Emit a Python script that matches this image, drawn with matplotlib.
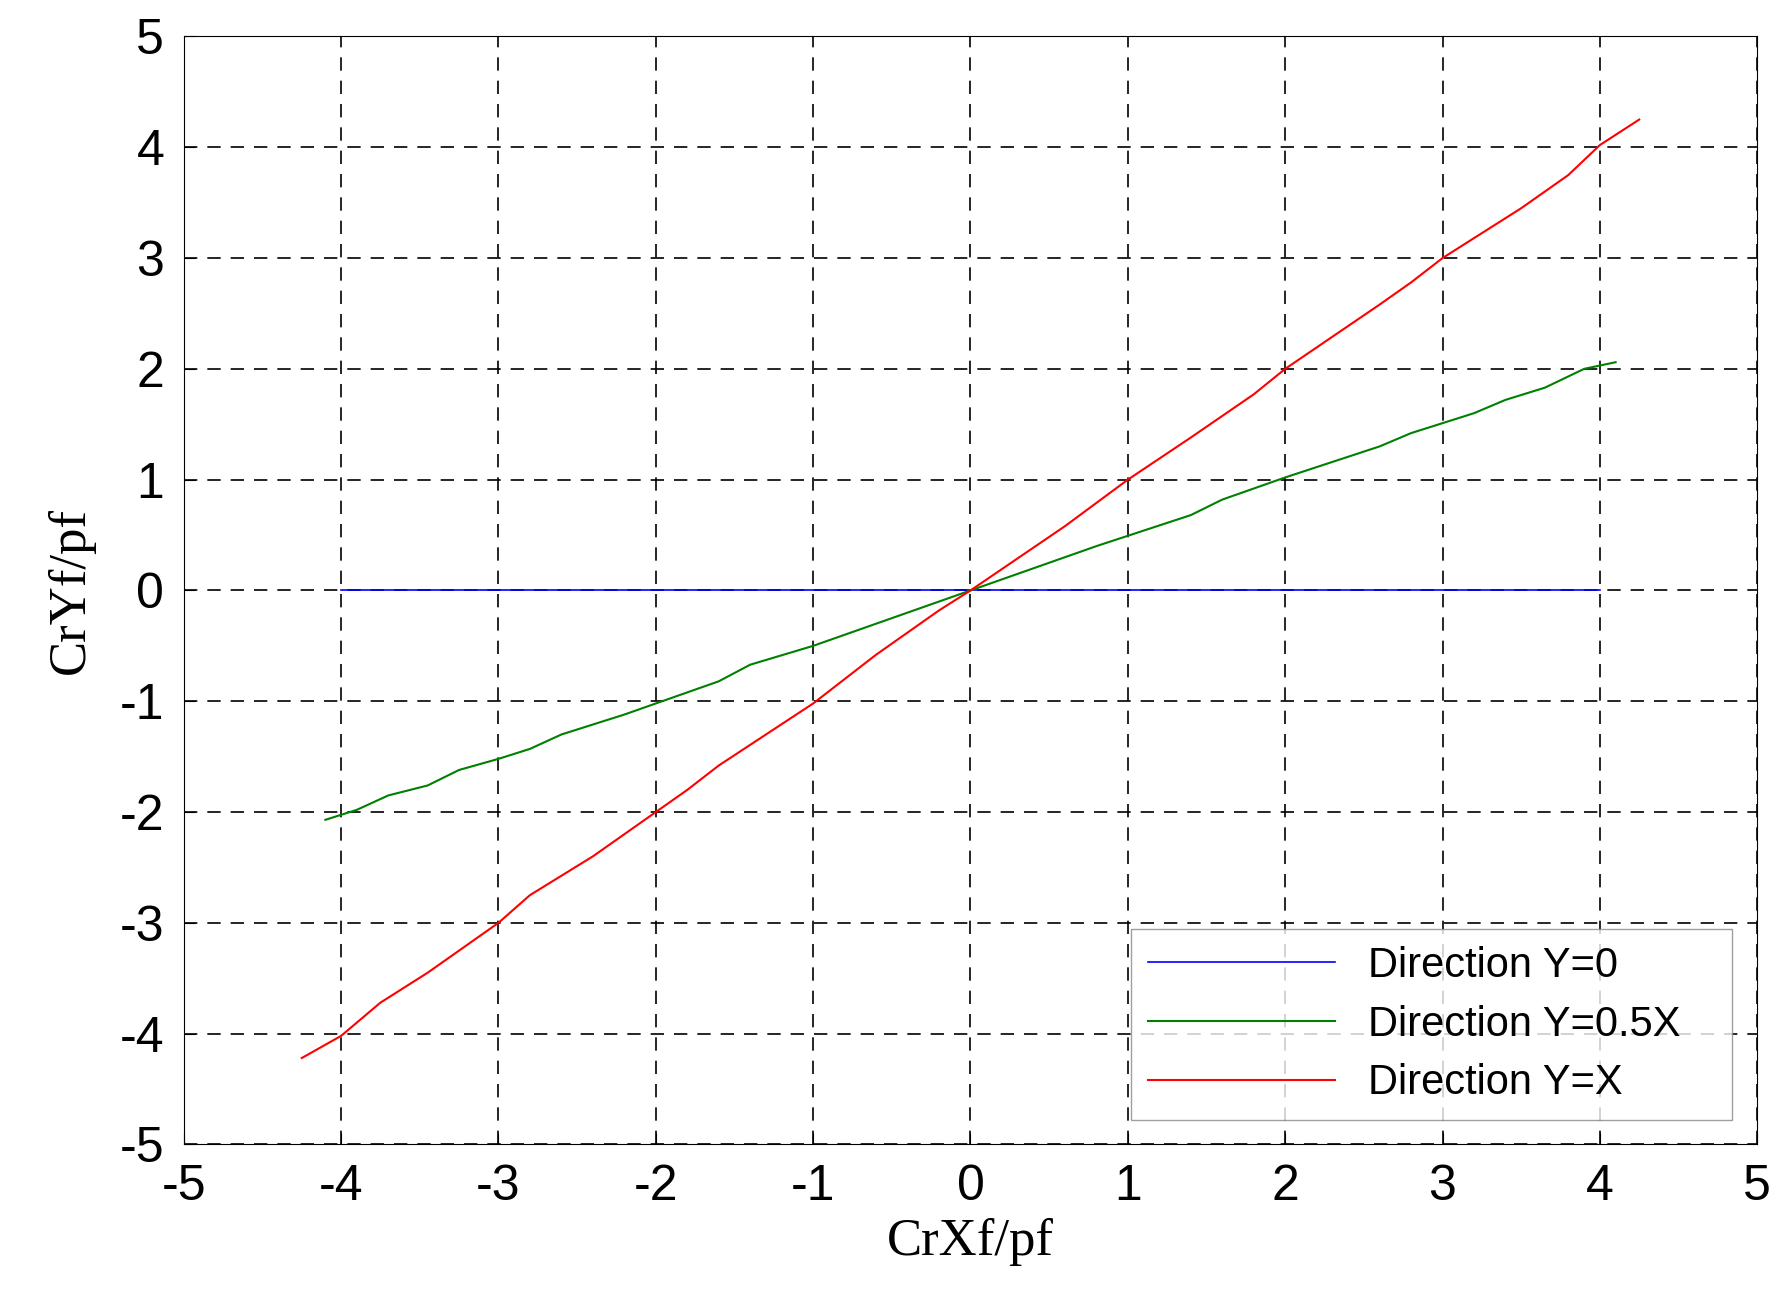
import numpy as np
import matplotlib.pyplot as plt

plt.rcParams["axes.unicode_minus"] = False

blue_x = [-4, 4]
blue_y = [0, 0]
green_x = [-4.1, -3.9, -3.7, -3.45, -3.25, -3.0, -2.8, -2.6, -2.2, -2.0, -1.6, -1.4, -1.0, -0.6, 0.0,
           0.6, 0.8, 1.4, 1.6, 2.0, 2.6, 2.8, 3.2, 3.4, 3.65, 3.9, 4.1]
green_y = [-2.07, -1.98, -1.85, -1.76, -1.62, -1.52, -1.43, -1.3, -1.12, -1.02, -0.82, -0.67, -0.5, -0.3, 0.0,
           0.3, 0.4, 0.68, 0.82, 1.02, 1.3, 1.42, 1.6, 1.72, 1.83, 2.0, 2.06]
red_x = [-4.25, -4.0, -3.75, -3.45, -3.0, -2.8, -2.4, -2.0, -1.8, -1.6, -1.0, -0.6, -0.2, 0.0,
         0.6, 1.0, 1.4, 1.8, 2.0, 2.6, 2.8, 3.0, 3.5, 3.8, 4.0, 4.25]
red_y = [-4.22, -4.02, -3.72, -3.45, -3.0, -2.75, -2.4, -2.0, -1.8, -1.58, -1.02, -0.58, -0.18, 0.0,
         0.58, 1.0, 1.38, 1.77, 2.0, 2.58, 2.78, 3.0, 3.45, 3.75, 4.02, 4.25]
ticks = [-5, -4, -3, -2, -1, 0, 1, 2, 3, 4, 5]

fig = plt.figure(figsize=(17.84, 13.02), dpi=100)
ax = fig.add_axes([0.103, 0.121, 0.882, 0.851])
ax.plot(blue_x, blue_y, color="blue", lw=1.2, label="Direction Y=0")
ax.plot(green_x, green_y, color="green", lw=1.5, label="Direction Y=0.5X")
ax.plot(red_x, red_y, color="red", lw=1.5, label="Direction Y=X")
ax.set_xlim(-5, 5)
ax.set_ylim(-5, 5)
ax.set_xticks(ticks)
ax.set_yticks(ticks)
ax.tick_params(labelsize=36, direction="in", length=8, pad=14)
for lab in ax.get_xticklabels() + ax.get_yticklabels():
    lab.set_fontfamily("Liberation Sans")
ax.grid(True, color="black", linestyle=(0, (8, 6)), lw=1.2)
ax.set_xlabel("CrXf/pf", fontsize=38, fontfamily="Liberation Serif", labelpad=6)
ax.set_ylabel("CrYf/pf", fontsize=38, fontfamily="Liberation Serif", labelpad=18)
leg = ax.legend(loc="lower left", bbox_to_anchor=(0.602, 0.022, 0.382, 0.191), mode="expand",
                prop={"family": "Liberation Sans", "size": 30},
                fancybox=False, edgecolor="#888888", handlelength=4.5, borderaxespad=0,
                labelspacing=0.45)
plt.savefig("out.png")
